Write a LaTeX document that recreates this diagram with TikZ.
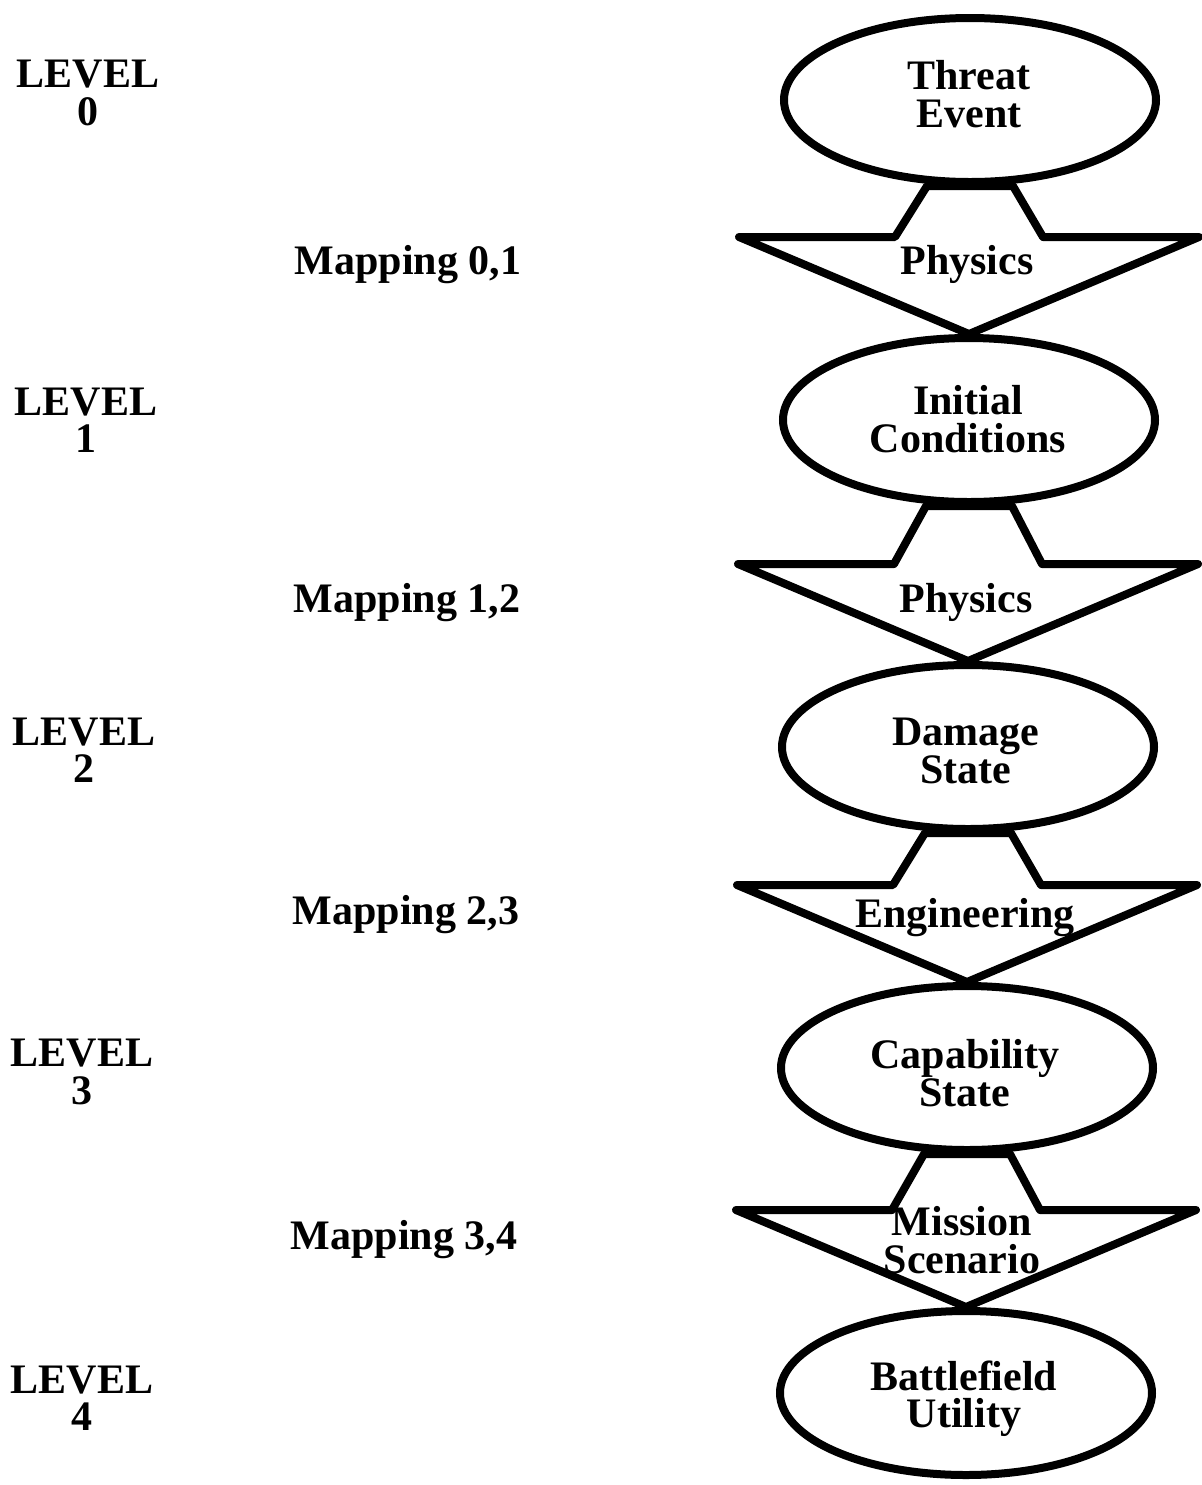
\documentclass[tikz,border=0pt]{standalone}
\usepackage{fontspec}
\setmainfont{Liberation Serif}
\usetikzlibrary{shapes.geometric,calc}
\pgfdeclarelayer{behind}
\pgfsetlayers{behind,main}
\begin{document}
\begin{tikzpicture}[x=0.5pt,y=-0.5pt,
  every node/.style={font=\fontsize{21}{18.7}\selectfont\bfseries, align=center, inner sep=0pt},
  state/.style={ellipse, draw, line width=4pt, fill=white,
                minimum width=186pt, minimum height=82pt},
  blockarrow/.style={draw, line width=4pt, fill=white, line join=round},
]
\useasboundingbox (0,0) rectangle (1201,1485);

% level states
\node[state] (e0) at (970,100)  {};
\node[state] (e1) at (969,420)  {};
\node[state] (e2) at (968,747)  {};
\node[state] (e3) at (967,1068) {};
\node[state] (e4) at (966,1393) {};

% state captions
\node (t0) at (969,94)   {Threat\\Event};
\node (t1) at (968,419)  {Initial\\Conditions};
\node (t2) at (966,751)  {Damage\\State};
\node (t3) at (965,1073) {Capability\\State};
\node (t4) at (964,1399) {Battlefield\\Utility};

% block arrows between consecutive levels, drawn underneath the ellipses
\begin{pgfonlayer}{behind}
\foreach \a/\b in {e0/e1, e1/e2, e2/e3, e3/e4} {
  \draw[blockarrow]
    ($(\a.south)+(-43,0)$) -- ($(\b.north)+(-74,-97)$) -- ($(\b.north)+(-230,-97)$)
    -- (\b.north)
    -- ($(\b.north)+(230,-97)$) -- ($(\b.north)+(74,-97)$) -- ($(\a.south)+(43,0)$) -- cycle;
}
\end{pgfonlayer}

% arrow labels
\node (m01) at (967,264)  {Physics};
\node (m12) at (966,602)  {Physics};
\node (m23) at (965,918)  {Engineering};
\node (m34) at (962,1240) {Mission\\Scenario};

% level labels
\node (l0) at (88,93)   {LEVEL\\0};
\node (l1) at (86,420)  {LEVEL\\1};
\node (l2) at (84,750)  {LEVEL\\2};
\node (l3) at (82,1072) {LEVEL\\3};
\node (l4) at (82,1398) {LEVEL\\4};

% mapping labels
\node (p01) at (408,265)  {Mapping 0,1};
\node (p12) at (407,603)  {Mapping 1,2};
\node (p23) at (406,915)  {Mapping 2,3};
\node (p34) at (404,1240) {Mapping 3,4};
\end{tikzpicture}
\end{document}
